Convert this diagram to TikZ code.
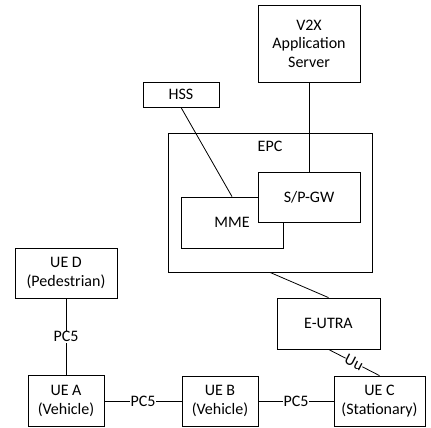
\documentclass[tikz,border=0pt]{standalone}
\usepackage{fontspec}
\setmainfont{Carlito}
\usetikzlibrary{positioning}

\begin{document}
\begin{tikzpicture}[
    x=1pt, y=-1pt,
    font=\fontsize{16}{18.5}\selectfont,
    line width=0.8pt,
    box/.style={draw, fill=white, minimum width=#1, minimum height=50pt, inner sep=2pt, align=center},
    box/.default=102pt,
    link/.style={draw},
    tag/.style={fill=white, inner sep=1pt},
]
\useasboundingbox (0,0) rectangle (431,428);

% Core network
\node[box=204pt, minimum height=139pt] (epc) at (270,202.5) {};
\node[below=5pt of epc.north] (epclabel) {EPC};
\node[box, minimum height=77pt] (server) at (309,43.5) {V2X\\Application\\Server};
\node[box=76pt, minimum height=25pt] (hss) at (181,94.5) {HSS};
\node[box, minimum height=51pt] (mme) at (232,222.5) {MME};
\node[box] (gw) at (309,197) {S/P-GW};

% Radio access and user equipment
\node[box=103pt, minimum height=51pt] (eutra) at (328.5,323.5) {E-UTRA};
\node[box] (ued) at (66,273) {UE D\\(Pedestrian)};
\node[box=76pt, minimum height=51pt] (uea) at (66,401) {UE A\\(Vehicle)};
\node[box=76pt] (ueb) at (220,401) {UE B\\(Vehicle)};
\node[box=91pt] (uec) at (379.5,401) {UE C\\(Stationary)};

% Interfaces
\draw[link] (hss.south) -- (mme.north);
\draw[link] (server.south) -- (gw.north);
\draw[link] (epc.south) -- (eutra.north);
\draw[link] (eutra.south) -- node[tag, sloped, inner sep=0pt] (uu) {Uu} (uec.north);
\draw[link] (ued.south) -- node[tag] (pcda) {PC5} (uea.north);
\draw[link] (uea.east) -- node[tag] (pcab) {PC5} (ueb.west);
\draw[link] (ueb.east) -- node[tag] (pcbc) {PC5} (uec.west);

\end{tikzpicture}
\end{document}
